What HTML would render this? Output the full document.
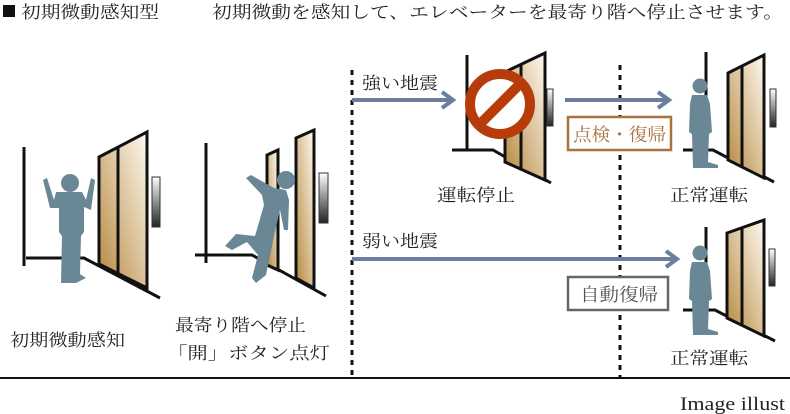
<!DOCTYPE html>
<html><head><meta charset="utf-8"><style>
html,body{margin:0;padding:0;background:#fff;}
svg{display:block;}
text{font-family:"Liberation Serif","Noto Serif CJK JP","Noto Serif CJK SC",serif;fill:#222;}
</style></head><body>
<svg width="790" height="414" viewBox="0 0 790 414" xmlns="http://www.w3.org/2000/svg">
<defs>
<linearGradient id="dg" x1="1" y1="0" x2="0" y2="1">
<stop offset="0" stop-color="#fffaf2"/><stop offset="1" stop-color="#b4873c"/></linearGradient>
<linearGradient id="pg" x1="0" y1="0" x2="0" y2="1">
<stop offset="0" stop-color="#fff"/><stop offset="1" stop-color="#222"/></linearGradient>
<g id="stand">
<circle cx="0" cy="-78" r="7.5" fill="#6a8796"/>
<path d="M-8,-69 L7,-69 L10,-60 L12,-32 L9,-30 L8,-2 L18,1 L18,4 L-7,4 L-8,-30 L-11,-32 L-10,-60 Z" fill="#6a8796"/>
</g>
</defs>
<rect x="3" y="5" width="12" height="12" fill="#111"/>
<text x="21" y="18" font-size="17" textLength="138" lengthAdjust="spacingAndGlyphs">初期微動感知型</text>
<text x="212" y="18" font-size="17" textLength="571" lengthAdjust="spacingAndGlyphs">初期微動を感知して、エレベーターを最寄り階へ停止させます。</text>

<!-- panel 1 -->
<g stroke="#111" stroke-width="3" fill="none">
<line x1="24" y1="147" x2="24" y2="266"/>
<polyline points="26,258 84,258 160,298"/>
</g>
<polygon points="99,157 147,132 147,288 99,264" fill="url(#dg)" stroke="#111" stroke-width="3"/>
<line x1="118" y1="147" x2="118" y2="274" stroke="#111" stroke-width="3"/>
<rect x="152" y="177" width="8" height="50" fill="url(#pg)" stroke="#333"/>
<g fill="#6a8796">
<circle cx="70" cy="183" r="9"/>
<path d="M56,192 L82,192 L86,200 L91,178 L95,180 L91,210 L84,207 L84,232 L81,236 L80,274 L86,278 L76,283 L61,283 L62,236 L59,232 L59,208 L50,208 L43,180 L47,178 L54,200 Z"/>
</g>
<!-- panel 2 -->
<g stroke="#111" stroke-width="3" fill="none">
<line x1="206" y1="143" x2="206" y2="263"/>
<polyline points="195,255 252,255 326,296"/>
</g>
<polygon points="267,155 278,150 278,270 267,265" fill="url(#dg)" stroke="#111" stroke-width="3"/>
<polygon points="296,138 314,130 314,288 296,278" fill="url(#dg)" stroke="#111" stroke-width="3"/>
<rect x="319" y="173" width="9" height="50" fill="url(#pg)" stroke="#333"/>
<g fill="#6a8796">
<circle cx="286" cy="180" r="9"/>
<path d="M246,178 L251,175 L274,188 L286,190 L289,200 L288,230 L284,230 L280,210 L274,236 L266,275 L256,283 L252,278 L258,255 L247,242 L232,250 L225,246 L236,234 L255,236 L264,205 L262,195 Z"/>
</g>

<!-- dotted lines -->
<g stroke="#111" stroke-width="3" stroke-dasharray="5,5">
<line x1="352" y1="70" x2="352" y2="378"/>
<line x1="620" y1="65" x2="620" y2="378"/>
</g>
<line x1="0" y1="378" x2="790" y2="378" stroke="#111" stroke-width="2"/>

<!-- arrows -->
<g stroke="#6b7ea0" stroke-width="4" fill="none">
<line x1="352" y1="100" x2="452" y2="100"/><polyline points="442,92 453,100 442,108"/>
<line x1="565" y1="100" x2="668" y2="100"/><polyline points="658,92 669,100 658,108"/>
<line x1="352" y1="259" x2="676" y2="259"/><polyline points="666,251 677,259 666,267"/>
</g>
<text x="362" y="89" font-size="17" textLength="76" lengthAdjust="spacingAndGlyphs">強い地震</text>
<text x="362" y="247" font-size="17" textLength="76" lengthAdjust="spacingAndGlyphs">弱い地震</text>

<!-- stopped elevator -->
<g stroke="#111" stroke-width="3" fill="none">
<line x1="467" y1="55" x2="467" y2="150"/>
<polyline points="452,150 493,150 551,183"/>
</g>
<polygon points="505,72 545,53 545,180 505,162" fill="url(#dg)" stroke="#111" stroke-width="3"/>
<line x1="521" y1="65" x2="521" y2="170" stroke="#111" stroke-width="3"/>
<rect x="547" y="89" width="6" height="37" fill="url(#pg)" stroke="#333"/>
<circle cx="500" cy="104" r="30" fill="#fff" stroke="#b83c0a" stroke-width="10"/>
<line x1="480" y1="124" x2="520" y2="84" stroke="#b83c0a" stroke-width="10"/>
<text x="437" y="201" font-size="17" textLength="78" lengthAdjust="spacingAndGlyphs">運転停止</text>

<rect x="568" y="117" width="103" height="33" fill="#fff" stroke="#a8733d" stroke-width="2.5"/>
<text x="573" y="141" font-size="18" textLength="93" lengthAdjust="spacingAndGlyphs" style="fill:#a8733d">点検・復帰</text>
<rect x="568" y="277" width="100" height="33" fill="#fff" stroke="#666" stroke-width="2.5"/>
<text x="580" y="301" font-size="18" textLength="78" lengthAdjust="spacingAndGlyphs" style="fill:#555">自動復帰</text>

<!-- upper right elevator -->
<g stroke="#111" stroke-width="3" fill="none">
<line x1="706" y1="52" x2="706" y2="150"/>
<polyline points="683,150 713,150 774,182"/>
</g>
<polygon points="728,73 764,55 764,178 728,160" fill="url(#dg)" stroke="#111" stroke-width="3"/>
<line x1="742" y1="66" x2="742" y2="168" stroke="#111" stroke-width="3"/>
<rect x="770" y="89" width="6" height="38" fill="url(#pg)" stroke="#333"/>
<use href="#stand" x="700" y="164"/>
<text x="670" y="201" font-size="17" textLength="78" lengthAdjust="spacingAndGlyphs">正常運転</text>

<!-- lower right elevator -->
<g stroke="#111" stroke-width="3" fill="none">
<line x1="706" y1="227" x2="706" y2="310"/>
<polyline points="683,310 715,310 775,341"/>
</g>
<polygon points="727,233 764,220 764,336 727,318" fill="url(#dg)" stroke="#111" stroke-width="3"/>
<line x1="742" y1="227" x2="742" y2="326" stroke="#111" stroke-width="3"/>
<rect x="769" y="249" width="6" height="37" fill="url(#pg)" stroke="#333"/>
<use href="#stand" x="700" y="331"/>
<text x="670" y="364" font-size="17" textLength="78" lengthAdjust="spacingAndGlyphs">正常運転</text>

<text x="10" y="346" font-size="17" textLength="115" lengthAdjust="spacingAndGlyphs">初期微動感知</text>
<text x="175" y="331" font-size="17" textLength="131" lengthAdjust="spacingAndGlyphs">最寄り階へ停止</text>
<text x="167" y="359" font-size="17" textLength="163" lengthAdjust="spacingAndGlyphs">「開」ボタン点灯</text>
<text x="680" y="410" font-size="19" textLength="105" lengthAdjust="spacingAndGlyphs">Image illust</text>
</svg>
</body></html>
